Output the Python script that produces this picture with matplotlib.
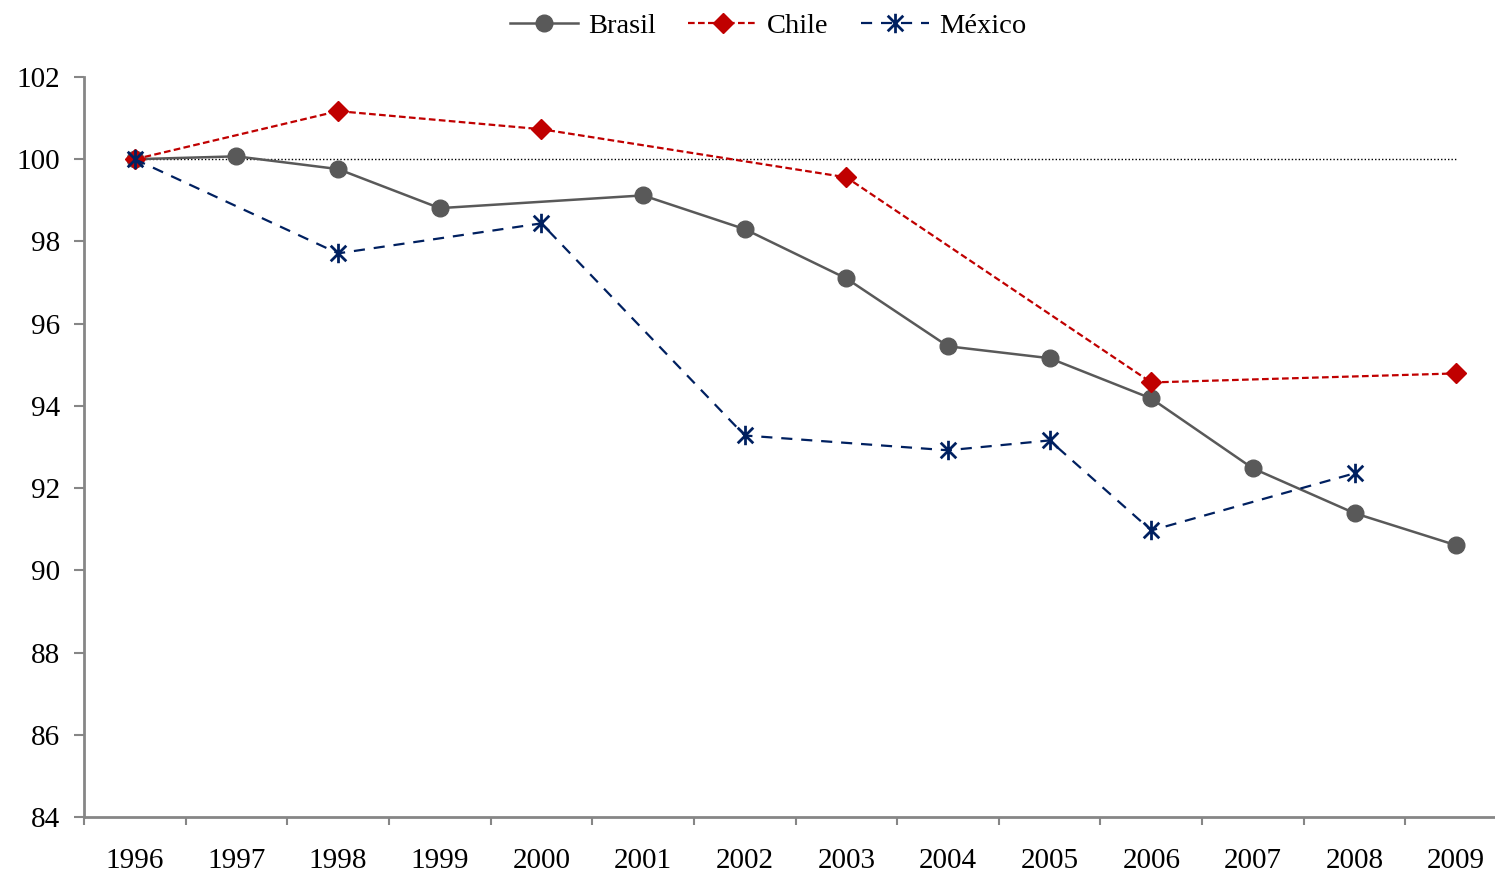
import matplotlib.pyplot as plt
from matplotlib.path import Path
import numpy as np

plt.rcParams['font.family'] = ['Liberation Serif', 'DejaVu Serif']

years = list(range(1996, 2010))

# None = no dato for that year (line is joined across the gap)
brasil = [100.0, 100.07, 99.76, 98.81, None, 99.12, 98.30, 97.10, 95.45, 95.16, 94.18, 92.48, 91.39, 90.61]
chile = [100.0, None, 101.17, None, 100.73, None, None, 99.56, None, None, 94.57, None, None, 94.79]
mexico = [100.0, None, 97.71, None, 98.44, None, 93.28, None, 92.92, 93.16, 90.97, None, 92.36, None]
base = 100


def pts(vals):
    xs = [y for y, v in zip(years, vals) if v is not None]
    ys = [v for v in vals if v is not None]
    return xs, ys


# excel-like star: vertical bar + X
star = Path([(0, -1), (0, 1), (-0.8, -0.8), (0.8, 0.8), (-0.8, 0.8), (0.8, -0.8)],
            [Path.MOVETO, Path.LINETO, Path.MOVETO, Path.LINETO, Path.MOVETO, Path.LINETO])

fig = plt.figure(figsize=(14.95, 8.73), dpi=100)
ax = fig.add_axes([84 / 1495, 1 - 817 / 873, (1507 - 84) / 1495, (817 - 77) / 873])

ax.plot([years[0], years[-1]], [base, base], color='black', lw=1.0, ls=(0, (1, 1.5)), zorder=1)

x, y = pts(brasil)
ax.plot(x, y, color='#595959', lw=1.8, marker='o', ms=12, label='Brasil', zorder=3)
x, y = pts(chile)
ax.plot(x, y, color='#C00000', lw=1.6, ls=(0, (3, 1.5)), marker='D', ms=10.5, label='Chile', zorder=4)
x, y = pts(mexico)
ax.plot(x, y, color='#002060', lw=1.6, ls=(0, (5, 4)), marker=star, ms=14, mew=2,
        mec='#002060', label='México', zorder=5)

ax.set_xlim(1995.5, 2009.5)
ax.set_ylim(84, 102)
ax.set_yticks(np.arange(84, 103, 2))
ax.set_xticks(years)
ax.set_xticks(np.arange(1995.5, 2010, 1), minor=True)

for s in ['top', 'right']:
    ax.spines[s].set_visible(False)
for s in ['left', 'bottom']:
    ax.spines[s].set_color('#868686')
    ax.spines[s].set_linewidth(2)

ax.tick_params(axis='x', which='major', length=0, pad=22, labelsize=21)
ax.tick_params(axis='x', which='minor', length=6, width=1.5, color='#868686', direction='out')
ax.tick_params(axis='y', length=7, width=1.5, color='#868686', direction='out', pad=10, labelsize=21)

ax.legend(loc='upper center', bbox_to_anchor=(768 / 1495, 1.005), bbox_transform=fig.transFigure,
          ncol=3, frameon=False, fontsize=20.5, handlelength=2.4, columnspacing=1.15,
          handletextpad=0.35, borderaxespad=0.2)

fig.savefig('out.png', dpi=100)
